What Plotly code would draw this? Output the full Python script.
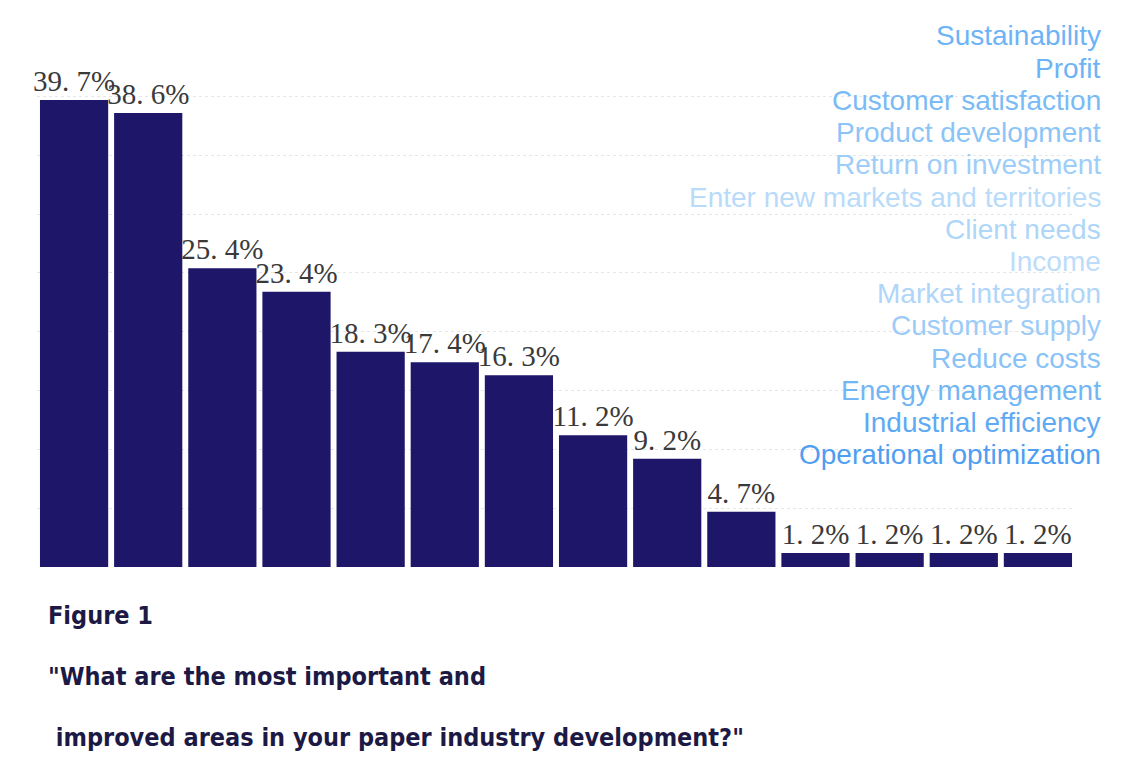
import plotly.graph_objects as go

# survey answers, in the order of the bars
areas = ["Sustainability", "Profit", "Customer satisfaction", "Product development",
         "Return on investment", "Enter new markets and territories", "Client needs",
         "Income", "Market integration", "Customer supply", "Reduce costs",
         "Energy management", "Industrial efficiency", "Operational optimization"]
shares = [39.7, 38.6, 25.4, 23.4, 18.3, 17.4, 16.3, 11.2, 9.2, 4.7, 1.2, 1.2, 1.2, 1.2]
label_colors = ["#6cb4f6", "#6cb4f6", "#7abbf6", "#8bc4f7", "#9dcdf8", "#b8dbfa", "#add6f9",
                "#bcdcfa", "#afd5f9", "#9ccbf8", "#88c2f7", "#72b6f5", "#5faaf3", "#4f9ef1"]

caption = ["Figure 1",
           "\"What are the most important and",
           " improved areas in your paper industry development?\""]

W, H = 1133, 768
L, R, T, B = 29, 66, 65, 209
OFF = 8  # page body margin
plot_h = H - T - B
plot_w = W - L - R


# page pixel -> paper coordinates
def px_x(x):
    return (x - OFF - L) / plot_w


def px_y(y):
    return (H - B - (y - OFF)) / plot_h


fig = go.Figure()
fig.add_trace(go.Bar(
    x=areas, y=shares,
    marker=dict(color="#1d1669", line=dict(width=0)),
    text=[f"{v:.1f}%".replace(".", ". ") for v in shares],
    textposition="outside",
    constraintext="none",
    textfont=dict(family="Liberation Serif, serif", size=29, color="#3a3a3a"),
    cliponaxis=False,
))

# label list on the right
for i, (name, col) in enumerate(zip(areas, label_colors)):
    fig.add_annotation(text=name, xref="paper", yref="paper",
                       x=px_x(1103), y=px_y(36 + i * 32.2),
                       xanchor="right", yanchor="middle", showarrow=False,
                       font=dict(family="Liberation Sans, Arial, sans-serif", size=28, color=col))

# caption under the chart
for txt, ypos in zip(caption, [615, 676, 737]):
    fig.add_annotation(text="<b>" + txt + "</b>", xref="paper", yref="paper",
                       x=px_x(46), y=px_y(ypos), xanchor="left", yanchor="middle",
                       showarrow=False,
                       font=dict(family="DejaVu Sans Condensed, sans-serif",
                                 size=25, color="#1c1a45"))

fig.update_layout(
    width=W, height=H,
    margin=dict(l=L, r=R, t=T, b=B),
    paper_bgcolor="white", plot_bgcolor="white",
    bargap=0.08,
    showlegend=False,
    xaxis=dict(showticklabels=False, showgrid=False, zeroline=False, showline=False),
    yaxis=dict(range=[0, 42], dtick=5, showticklabels=False, showgrid=True,
               gridcolor="#e6e6e6", griddash="dot", zeroline=False, showline=False),
)

fig.write_html("out.html")
